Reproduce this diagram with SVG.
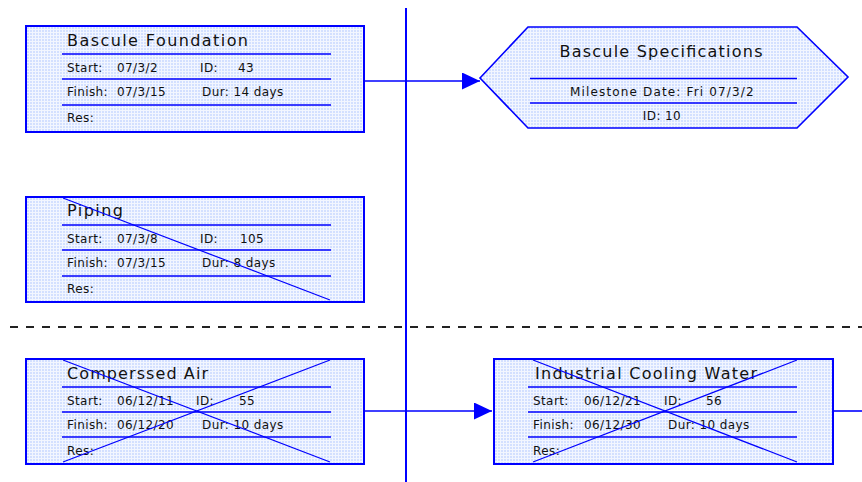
<svg xmlns="http://www.w3.org/2000/svg" width="862" height="482" viewBox="0 0 862 482">
<style>
.box{fill:url(#dots);stroke:#0000ff;stroke-width:2}
.sep{stroke:#0000ff;stroke-width:1.5}
.x{stroke:#0000ff;stroke-width:1.2}
.t{font-family:"DejaVu Sans","Liberation Sans",sans-serif;font-size:16px;fill:#111}
.r{font-family:"DejaVu Sans","Liberation Sans",sans-serif;font-size:12px;letter-spacing:0.4px;fill:#111}
.c{stroke:#0000ff;stroke-width:1.6;fill:none}
.g{stroke:#0000ff;stroke-width:2;fill:none}
.d{stroke:#222;stroke-width:2;stroke-dasharray:8 8;fill:none}
</style>
<defs>
<pattern id="dots" width="3" height="3" patternUnits="userSpaceOnUse">
<rect width="3" height="3" fill="#f2f6ff"/>
<rect width="2" height="2" fill="#d3e0ff"/>
</pattern>
<marker id="ah" markerUnits="userSpaceOnUse" markerWidth="18" markerHeight="17" refX="18" refY="8.5" orient="auto">
<path d="M0,0 L18,8.5 L0,17 z" fill="#0000ff"/>
</marker>
</defs>
<rect width="862" height="482" fill="#ffffff"/>

<g id="gridlines">
<line class="g" x1="406" y1="8" x2="406" y2="482"/>
<line class="d" x1="10" y1="327" x2="862" y2="327"/>
</g>

<g id="connectors">
<path class="c" d="M364,81 H480" marker-end="url(#ah)"/>
<path class="c" d="M364,411 H492" marker-end="url(#ah)"/>
<path class="c" d="M833,411 H862"/>
</g>

<g id="node-bascule-foundation">
<rect class="box" x="26" y="26" width="338" height="106"/>
<line class="sep" x1="62" y1="54" x2="331" y2="54"/>
<line class="sep" x1="62" y1="79" x2="331" y2="79"/>
<line class="sep" x1="62" y1="105" x2="331" y2="105"/>
<text class="t" x="67" y="46" textLength="181">Bascule Foundation</text>
<text class="r" x="67" y="72">Start:</text><text class="r" x="117" y="72">07/3/2</text>
<text class="r" x="200" y="72">ID:</text><text class="r" x="238" y="72">43</text>
<text class="r" x="67" y="96">Finish:</text><text class="r" x="117" y="96">07/3/15</text>
<text class="r" x="202" y="96">Dur: 14 days</text>
<text class="r" x="67" y="122">Res:</text>
</g>

<g id="node-piping">
<rect class="box" x="26" y="197" width="338" height="105"/>
<line class="sep" x1="62" y1="225" x2="331" y2="225"/>
<line class="sep" x1="62" y1="250" x2="331" y2="250"/>
<line class="sep" x1="62" y1="276" x2="331" y2="276"/>
<text class="t" x="67" y="216" textLength="56">Piping</text>
<text class="r" x="67" y="243">Start:</text><text class="r" x="117" y="243">07/3/8</text>
<text class="r" x="200" y="243">ID:</text><text class="r" x="240" y="243">105</text>
<text class="r" x="67" y="267">Finish:</text><text class="r" x="117" y="267">07/3/15</text>
<text class="r" x="202" y="267">Dur: 8 days</text>
<text class="r" x="67" y="293">Res:</text>
<line class="x" x1="63" y1="198" x2="330" y2="300"/>
</g>

<g id="node-compressed-air">
<rect class="box" x="26" y="359" width="338" height="105"/>
<line class="sep" x1="62" y1="387" x2="331" y2="387"/>
<line class="sep" x1="62" y1="412" x2="331" y2="412"/>
<line class="sep" x1="62" y1="437" x2="331" y2="437"/>
<text class="t" x="67" y="379" textLength="141">Comperssed Air</text>
<text class="r" x="67" y="405">Start:</text><text class="r" x="117" y="405">06/12/11</text>
<text class="r" x="196" y="405">ID:</text><text class="r" x="239" y="405">55</text>
<text class="r" x="67" y="429">Finish:</text><text class="r" x="117" y="429">06/12/20</text>
<text class="r" x="202" y="429">Dur: 10 days</text>
<text class="r" x="67" y="455">Res:</text>
<line class="x" x1="63" y1="360" x2="330" y2="462"/>
<line class="x" x1="330" y1="360" x2="63" y2="462"/>
</g>

<g id="node-industrial-cooling-water">
<rect class="box" x="494" y="359" width="339" height="105"/>
<line class="sep" x1="528" y1="387" x2="797" y2="387"/>
<line class="sep" x1="528" y1="412" x2="797" y2="412"/>
<line class="sep" x1="528" y1="437" x2="797" y2="437"/>
<text class="t" x="535" y="379" textLength="222">Industrial Cooling Water</text>
<text class="r" x="533" y="405">Start:</text><text class="r" x="584" y="405">06/12/21</text>
<text class="r" x="664" y="405">ID:</text><text class="r" x="706" y="405">56</text>
<text class="r" x="533" y="429">Finish:</text><text class="r" x="584" y="429">06/12/30</text>
<text class="r" x="668" y="429">Dur: 10 days</text>
<text class="r" x="533" y="455">Res:</text>
<line class="x" x1="533" y1="360" x2="797" y2="462"/>
<line class="x" x1="797" y1="360" x2="533" y2="462"/>
</g>

<g id="node-bascule-specifications">
<polygon class="box" style="stroke-width:1.6" points="480,78 528,27 797,27 848,77 797,128 528,128"/>
<line class="sep" x1="530" y1="78.5" x2="797" y2="78.5"/>
<line class="sep" x1="530" y1="103" x2="797" y2="103"/>
<text class="t" x="661" y="57" text-anchor="middle" textLength="203">Bascule Specifications</text>
<text class="r" x="662" y="96" text-anchor="middle" textLength="184">Milestone Date: Fri 07/3/2</text>
<text class="r" x="662" y="120" text-anchor="middle">ID: 10</text>
</g>
</svg>
